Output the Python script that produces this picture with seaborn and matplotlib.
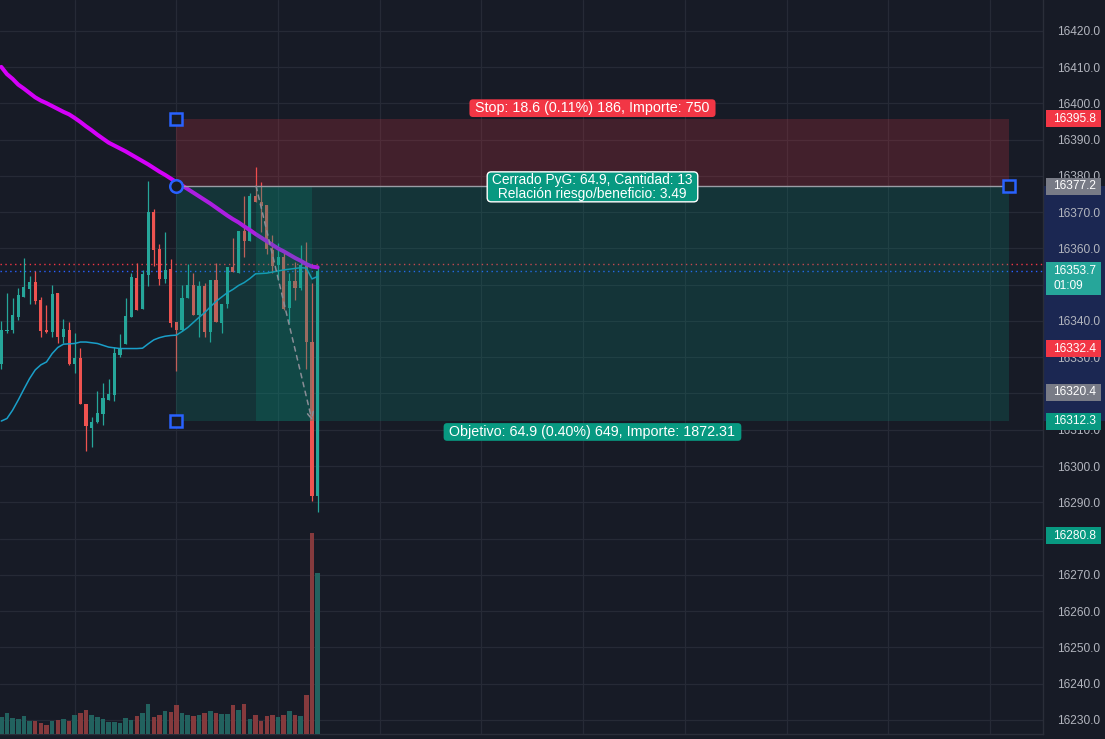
import numpy as np
import pandas as pd
import matplotlib
matplotlib.use("Agg")
import matplotlib.pyplot as plt
import seaborn as sns
from matplotlib.patches import Rectangle
from matplotlib import transforms

# ---------------- data ----------------
opens = [16328.1, 16337.2, 16337.5, 16341.2, 16346.7, 16348.9, 16350.8, 16345.8, 16337.5, 16337.1,
         16347.7, 16335.7, 16337.5, 16328.1, 16329.8, 16317.1, 16310.4, 16312.0, 16314.3, 16318.2,
         16319.6, 16330.6, 16333.7, 16341.2, 16351.9, 16343.4, 16352.7, 16370.2, 16359.9, 16351.6,
         16354.3, 16339.8, 16337.5, 16346.4, 16349.9, 16341.7, 16349.7, 16337.1, 16351.3, 16339.5,
         16344.7, 16355.0, 16353.3, 16364.8, 16362.2, 16374.5, 16372.8, 16372.0, 16359.6, 16355.4,
         16357.7, 16343.7, 16350.9, 16349.0, 16355.3, 16334.3, 16291.8]
highs = [16340.0, 16347.6, 16346.3, 16349.0, 16357.3, 16352.4, 16353.9, 16346.7, 16344.3, 16349.8,
         16347.7, 16340.5, 16339.7, 16336.6, 16332.5, 16317.1, 16313.6, 16320.8, 16322.8, 16324.1,
         16332.9, 16336.4, 16346.3, 16353.3, 16355.9, 16354.1, 16378.6, 16370.8, 16361.2, 16364.6,
         16357.1, 16339.8, 16349.9, 16355.6, 16353.3, 16351.1, 16350.6, 16351.3, 16355.9, 16344.7,
         16355.0, 16362.8, 16364.8, 16374.5, 16375.2, 16382.6, 16378.3, 16372.0, 16363.7, 16361.4,
         16358.7, 16353.2, 16356.4, 16361.0, 16361.9, 16350.4, 16355.0]
lows = [16326.8, 16336.6, 16336.8, 16340.3, 16346.7, 16344.7, 16344.7, 16335.7, 16336.6, 16335.7,
        16333.8, 16333.8, 16327.9, 16325.6, 16317.2, 16304.2, 16305.3, 16311.8, 16311.3, 16318.2,
        16317.9, 16330.2, 16333.7, 16341.2, 16342.9, 16343.4, 16349.7, 16355.2, 16350.0, 16350.6,
        16338.4, 16326.3, 16337.3, 16346.3, 16341.7, 16335.7, 16335.7, 16334.3, 16339.8, 16336.6,
        16343.5, 16353.6, 16353.2, 16357.7, 16362.2, 16372.9, 16364.6, 16358.5, 16353.2, 16351.3,
        16343.0, 16339.4, 16345.8, 16348.6, 16326.7, 16290.4, 16287.4]
closes = [16337.5, 16337.5, 16341.7, 16347.2, 16349.5, 16350.8, 16345.6, 16337.3, 16337.0, 16347.4,
          16335.7, 16337.8, 16328.1, 16329.8, 16317.2, 16310.9, 16312.1, 16314.7, 16318.8, 16319.9,
          16331.3, 16332.5, 16341.4, 16352.2, 16343.0, 16353.0, 16370.2, 16359.6, 16351.6, 16354.1,
          16339.5, 16337.5, 16346.3, 16349.9, 16341.7, 16349.7, 16337.1, 16351.3, 16339.8, 16344.7,
          16355.0, 16353.6, 16364.8, 16362.2, 16374.5, 16372.9, 16371.8, 16359.8, 16355.2, 16357.7,
          16343.3, 16351.0, 16349.0, 16355.4, 16334.3, 16291.8, 16353.7]
volumes = [102, 126, 96, 90, 108, 78, 78, 66, 54, 78,
           84, 90, 78, 114, 126, 144, 114, 102, 90, 72,
           72, 66, 96, 84, 108, 126, 180, 102, 114, 138,
           132, 174, 126, 114, 108, 114, 126, 138, 126, 120,
           120, 174, 144, 180, 90, 114, 78, 108, 114, 102,
           114, 138, 114, 108, 234, 1206, 966]
ma_slow = [16410.1, 16408.1, 16406.8, 16405.2, 16404.1, 16402.9, 16401.7, 16400.8, 16400.1, 16399.3,
           16398.5, 16397.7, 16397.0, 16396.0, 16394.9, 16393.7, 16392.6, 16391.4, 16390.3, 16389.2,
           16388.4, 16387.6, 16386.8, 16385.9, 16385.0, 16384.1, 16383.2, 16382.2, 16381.2, 16380.3,
           16379.3, 16378.3, 16377.4, 16376.4, 16375.4, 16374.4, 16373.4, 16372.4, 16371.3, 16370.2,
           16369.1, 16368.1, 16367.2, 16366.1, 16365.1, 16364.0, 16363.0, 16362.0, 16361.0, 16360.0,
           16359.2, 16358.3, 16357.4, 16356.6, 16355.7, 16355.0, 16354.8]
ma_fast = [16312.4, 16313.1, 16315.4, 16318.2, 16321.2, 16324.1, 16326.5, 16327.9, 16328.7, 16331.0,
           16332.7, 16333.6, 16333.7, 16333.8, 16334.2, 16334.2, 16334.0, 16333.8, 16333.3, 16332.8,
           16332.6, 16332.4, 16332.4, 16332.4, 16332.4, 16332.5, 16333.7, 16334.8, 16335.4, 16335.8,
           16336.0, 16336.1, 16337.1, 16338.2, 16339.6, 16341.0, 16342.3, 16343.9, 16345.4, 16346.6,
           16347.8, 16348.7, 16349.8, 16350.6, 16351.7, 16353.0, 16353.1, 16353.2, 16353.5, 16353.8,
           16354.1, 16354.3, 16354.5, 16354.7, 16354.6, 16351.6, 16352.3]

entry_price = 16377.2
stop_price = 16395.8
target_price = 16312.3
last_price = 16353.7
ref_price = 16355.8
pos_start, pos_end = 30.9, 178.4
trade_in_bar, trade_out_bar = 45.1, 55.0
countdown = "01:09"
stop_text = " Stop: 18.6 (0.11%) 186, Importe: 750 "
mid_text = " Cerrado PyG: 64.9, Cantidad: 13 \n Relación riesgo/beneficio: 3.49 "
target_text = " Objetivo: 64.9 (0.40%) 649, Importe: 1872.31 "
# price-scale labels (those fully hidden behind value marks are not shown)
price_ticks = [16230, 16240, 16250, 16260, 16270, 16290, 16300, 16310, 16330,
               16340, 16360, 16370, 16380, 16390, 16400, 16410, 16420]
axis_marks = [(16395.8, '#f23645'), (16377.2, '#787b86'), (16332.4, '#f23645'),
              (16320.4, '#787b86'), (16312.3, '#089981'), (16280.8, '#089981')]

# ---------------- style ----------------
W, H = 1105, 739
BG = '#171b26'
GRID = '#262a36'
UP, DOWN = '#26a69a', '#ef5350'
AX_FS = 8.6
LAB_FS = 10.3

sns.set_theme(style='dark', rc={'axes.facecolor': BG, 'figure.facecolor': BG})
plt.rcParams['font.family'] = ['Liberation Sans', 'DejaVu Sans']

fig = plt.figure(figsize=(W / 100, H / 100), dpi=100)
ax = fig.add_axes([0, 5 / H, 1043 / W, 734 / H])
ax_v = ax.twinx()

n = len(opens)
idx = np.arange(n)
o = np.array(opens); c = np.array(closes); hi = np.array(highs); lo = np.array(lows)
up = c >= o
cols = np.where(up, UP, DOWN)

# ---------------- volume ----------------
vdf = pd.DataFrame({'bar': idx, 'vol': volumes, 'dir': np.where(up, 'up', 'down')})
sns.barplot(data=vdf, x='bar', y='vol', hue='dir', native_scale=True, dodge=False,
            palette={'up': '#22625f', 'down': '#853a3d'}, saturation=1, width=0.8,
            errorbar=None, legend=False, ax=ax_v, linewidth=0)
ax_v.set_ylim(0, 734 * 6)
ax_v.set_axis_off()

# ---------------- candles ----------------
ax.vlines(idx, lo, hi, colors=cols, lw=0.9, zorder=3)
body_h = np.maximum(np.abs(c - o), 0.25)
ax.bar(idx, body_h, bottom=np.minimum(o, c), width=0.56, color=cols, linewidth=0, zorder=3)

# moving averages
sns.lineplot(x=idx, y=ma_slow, ax=ax, color='#d500f9', lw=2.9, zorder=4)
sns.lineplot(x=idx, y=ma_fast, ax=ax, color='#1a9fc9', lw=1.1, zorder=4)

# price lines
ax.axhline(ref_price, color='#f23645', ls=(0, (1, 2.5)), lw=1, zorder=2.6)
ax.axhline(last_price, color='#2962ff', ls=(0, (1, 2.5)), lw=1, zorder=2.6)

# ---------------- position tool ----------------
ax.add_patch(Rectangle((pos_start, entry_price), pos_end - pos_start, stop_price - entry_price,
                       fc='#f23645', alpha=0.2, ec='none', zorder=5))
ax.add_patch(Rectangle((pos_start, target_price), pos_end - pos_start, entry_price - target_price,
                       fc='#089981', alpha=0.2, ec='none', zorder=5))
ax.add_patch(Rectangle((trade_in_bar, target_price), trade_out_bar - trade_in_bar, entry_price - target_price,
                       fc='#089981', alpha=0.2, ec='none', zorder=5))
ax.plot([pos_start, pos_end], [entry_price, entry_price], color='#9a9da6', lw=1, zorder=6)
ax.annotate('', xy=(trade_out_bar, target_price + 0.3), xytext=(trade_in_bar, entry_price),
            arrowprops=dict(arrowstyle='->', color='#8a8d96', lw=1.1, ls=(0, (3, 3)),
                            shrinkA=0, shrinkB=0), zorder=7)

hkw = dict(ls='none', mfc=BG, mec='#2962ff', mew=1.8, zorder=9)
ax.plot([pos_start], [stop_price], marker='s', ms=8.5, **hkw)
ax.plot([pos_start], [target_price], marker='s', ms=8.5, **hkw)
ax.plot([pos_end], [entry_price], marker='s', ms=8.5, **hkw)
ax.plot([pos_start], [entry_price], marker='o', ms=9, **hkw)

mid = (pos_start + pos_end) / 2
lab = dict(ha='center', va='center', color='white', textcoords='offset points',
           zorder=12, annotation_clip=False)
ax.annotate(stop_text, xy=(mid, stop_price), xytext=(0, 7.6), fontsize=LAB_FS,
            bbox=dict(boxstyle='round,pad=0.13,rounding_size=0.25', fc='#f23645', ec='none'), **lab)
ax.annotate(mid_text, xy=(mid, entry_price), xytext=(0, -0.5), linespacing=0.98, fontsize=9.9,
            bbox=dict(boxstyle='round,pad=0.08,rounding_size=0.3', fc='#089981', ec='white', lw=1), **lab)
ax.annotate(target_text, xy=(mid, target_price), xytext=(0, -7.6), fontsize=LAB_FS,
            bbox=dict(boxstyle='round,pad=0.13,rounding_size=0.25', fc='#089981', ec='none'), **lab)

# ---------------- axes ----------------
ax.set_xlim(-0.23, 184.4)
ax.set_ylim(16226.07, 16428.55)
ax.set_xticks(np.arange(13, 184, 18))
ax.tick_params(axis='x', length=0, labelbottom=False, labeltop=False)
ax.yaxis.tick_right()
ax.set_yticks(price_ticks)
ax.set_yticklabels([f'{p:.1f}' for p in price_ticks])
ax.tick_params(axis='y', length=0, pad=10, labelcolor='#b2b5be', labelsize=AX_FS,
               right=True, labelright=True, left=False, labelleft=False)
ax.grid(False)
for p in range(16230, 16421, 10):
    ax.axhline(p, color=GRID, lw=0.9, zorder=0.5)
ax.grid(True, axis='x', color=GRID, lw=0.9)
ax.set_axisbelow(True)
ax.set_xlabel(''); ax.set_ylabel('')
for s in ['top', 'left']:
    ax.spines[s].set_visible(False)
for s in ['right', 'bottom']:
    ax.spines[s].set_visible(True)
    ax.spines[s].set_color('#2a2e39')
    ax.spines[s].set_linewidth(1)

# price-scale marks
blend = transforms.blended_transform_factory(fig.transFigure, ax.transData)
ax.add_patch(Rectangle((1044 / W, target_price), (W - 1044) / W, entry_price - target_price,
                       transform=blend, fc='#1b2752', ec='none', clip_on=False, zorder=0.5))
half = 8.5 / 3.625
for p, col in axis_marks:
    ax.add_patch(Rectangle((1046 / W, p - half), 55 / W, 2 * half, transform=blend,
                           fc=col, ec='none', clip_on=False, zorder=20))
    ax.text(1075 / W, p, f'{p:.1f}', transform=blend, ha='center', va='center',
            color='white', fontsize=AX_FS, zorder=21, clip_on=False)
ax.add_patch(Rectangle((1046 / W, last_price - 6.6), 55 / W, 9.1, transform=blend,
                       fc=UP, ec='none', clip_on=False, zorder=20))
ax.text(1075 / W, last_price + 0.1, f'{last_price:.1f}', transform=blend, ha='center', va='center',
        color='white', fontsize=AX_FS, zorder=21, clip_on=False)
ax.text(1054 / W, last_price - 4.0, countdown, transform=blend, ha='left', va='center',
        color='white', fontsize=AX_FS, zorder=21, clip_on=False)

fig.savefig('out.png', dpi=100, facecolor=BG)
